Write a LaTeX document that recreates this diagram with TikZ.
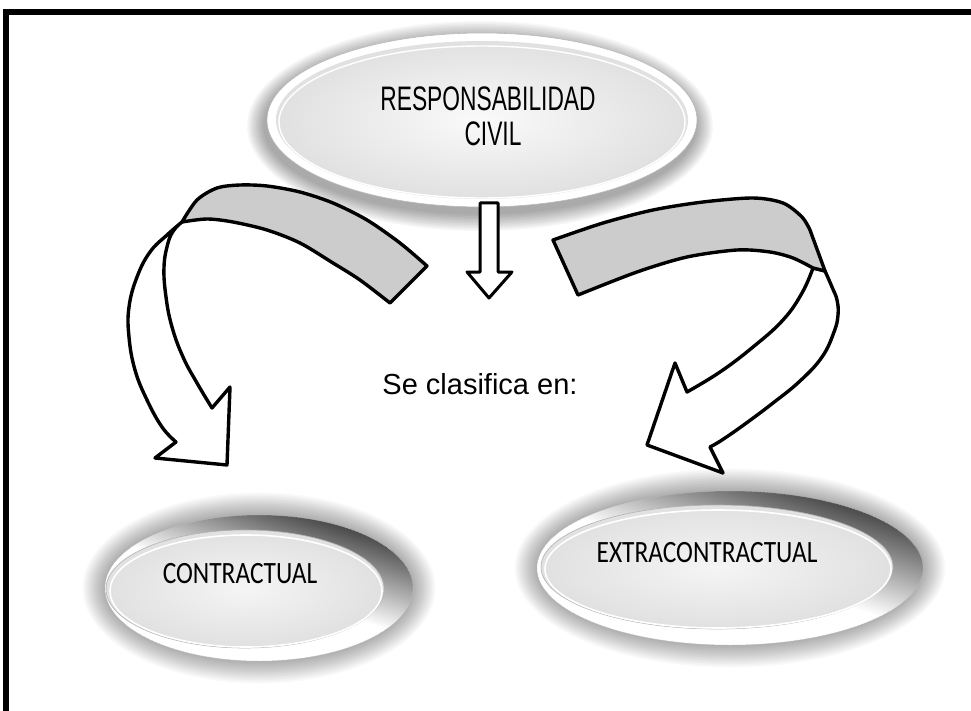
\documentclass[tikz,border=0pt]{standalone}
\usepackage{fontspec}
\setmainfont{Liberation Sans}
\newfontfamily\narrowfont[FakeStretch=0.67]{Liberation Sans}
\newfontfamily\calfont[FakeStretch=0.82]{Carlito}
\usetikzlibrary{calc}
\begin{document}
\begin{tikzpicture}[x=1pt,y=-1pt]
\tikzset{
  outline/.style={draw=black, line width=3.4pt, line join=round},
  bandfill/.style={outline, fill=gray!40},
  bodyfill/.style={outline, fill=white},
  lbl/.style={inner sep=0pt, anchor=base},
  rimshade/.style={top color=black!78, bottom color=white, middle color=white, shading angle=-18},
}
\useasboundingbox (0,0) rectangle (971,711);
\fill[white] (0,0) rectangle (971,711);
% frame
\draw[line width=5.5pt] (6,725) -- (6,12) -- (985,12);

% ---------- top ellipse ----------
\coordinate (topc) at (482,120);
\foreach \k in {12,11,...,1}
  \fill[black,opacity=0.03] ($(topc)+(-2,6)$) ellipse [x radius={(215+1.5*\k)*1pt}, y radius={(87+1.5*\k)*1pt}];
\fill[white, draw=gray!55, line width=0.6pt] (topc) ellipse [x radius=215pt, y radius=87pt];
\shade[inner color=gray!4, outer color=gray!24] (topc) ellipse [x radius=206pt, y radius=79pt];
\draw[white, line width=1.4pt] ($(topc)+(0,2)$) ellipse [x radius=203pt, y radius=76pt];
\node[lbl, font=\narrowfont\fontsize{34}{38}\selectfont] (resp) at (488,111) {RESPONSABILIDAD};
\node[lbl, font=\narrowfont\fontsize{34}{38}\selectfont] (civil) at (493,146) {CIVIL};

% ---------- left bottom ellipse ----------
\coordinate (lo) at (259,588);
\coordinate (lf) at (245,589);
\foreach \k in {14,13,...,1}
  \fill[black,opacity=0.025] (lo) ellipse [x radius={(154+1.6*\k)*1pt}, y radius={(73+1.6*\k)*1pt}];
\shade[rimshade] (lo) ellipse [x radius=154pt, y radius=73pt];
\draw[gray!50, line width=0.5pt, densely dotted] (lo) ellipse [x radius=154pt, y radius=73pt];
\shade[inner color=gray!8, outer color=gray!24] (lf) ellipse [x radius=139pt, y radius=59pt];
\draw[gray!60, line width=0.6pt] (lf) ellipse [x radius=139pt, y radius=59pt];
\draw[white, line width=1.6pt] ($(lf)+(1,2)$) ellipse [x radius=136pt, y radius=56pt];
\node[lbl, font=\calfont\fontsize{31}{36}\selectfont] (contr) at (240,583) {CONTRACTUAL};

% ---------- right bottom ellipse ----------
\coordinate (ro) at (730,568);
\coordinate (rf) at (717,567);
\foreach \k in {14,13,...,1}
  \fill[black,opacity=0.025] (ro) ellipse [x radius={(193+1.6*\k)*1pt}, y radius={(77+1.6*\k)*1pt}];
\shade[rimshade] (ro) ellipse [x radius=193pt, y radius=77pt];
\draw[gray!50, line width=0.5pt, densely dotted] (ro) ellipse [x radius=193pt, y radius=77pt];
\shade[inner color=gray!8, outer color=gray!24] (rf) ellipse [x radius=176pt, y radius=62pt];
\draw[gray!60, line width=0.6pt] (rf) ellipse [x radius=176pt, y radius=62pt];
\draw[white, line width=1.6pt] ($(rf)+(1,2)$) ellipse [x radius=173pt, y radius=59pt];
\node[lbl, font=\calfont\fontsize{31}{36}\selectfont] (extra) at (707,562) {EXTRACONTRACTUAL};

% ---------- down arrow ----------
\draw[outline, line width=3pt, fill=white] (480,203) -- (498,203) -- (498,272) -- (512,272)
  -- (489,298) -- (467,272) -- (480,272) -- cycle;

% ---------- left curved arrow ----------
\draw[bodyfill] (182,222) -- plot[smooth, tension=0.7] coordinates {(182,222) (167,235) (150,252) (137,277) (129,307) (129,337) (135,370) (147,400) (162,427) (176,442)}
  -- (155,458) -- (227,465) -- (230,387) -- (212,408)
  -- plot[smooth, tension=0.7] coordinates {(212,408) (197,383) (183,357) (172,327) (166,297) (164,267) (168,243) (174,230) (182,222)} -- cycle;
\draw[bandfill] (427,266) -- (390,303)
  -- plot[smooth] coordinates {(390,303) (360,280) (333,263) (300,243) (267,230) (233,222) (207,219) (182,222)}
  -- plot[smooth] coordinates {(182,222) (197,200) (217,188) (240,185) (267,186) (300,192) (333,203) (367,220) (400,243) (427,266)} -- cycle;

% ---------- right curved arrow ----------
\draw[bodyfill] (825,271) -- plot[smooth, tension=0.7] coordinates {(825,271) (832,287) (837,300) (838,315) (834,332) (822,357) (800,381) (773,403) (745,424) (722,440) (710,447)}
  -- (723,473) -- (647,445) -- (675,363) -- (687,392)
  -- plot[smooth, tension=0.7] coordinates {(687,392) (720,372) (753,347) (783,320) (802,293) (813,268)} -- cycle;
\draw[bandfill] (553,240) -- (578,295)
  -- plot[smooth] coordinates {(578,295) (637,272) (687,257) (737,250) (770,252) (793,258) (813,268)}
  -- (825,271) -- (810,230)
  -- plot[smooth] coordinates {(810,230) (802,217) (783,203) (753,198) (703,202) (653,210) (603,223) (553,240)} -- cycle;

% ---------- middle text ----------
\node[lbl, font=\fontsize{29}{34}\selectfont] (secl) at (480,394) {Se clasifica en:};
\end{tikzpicture}
\end{document}
